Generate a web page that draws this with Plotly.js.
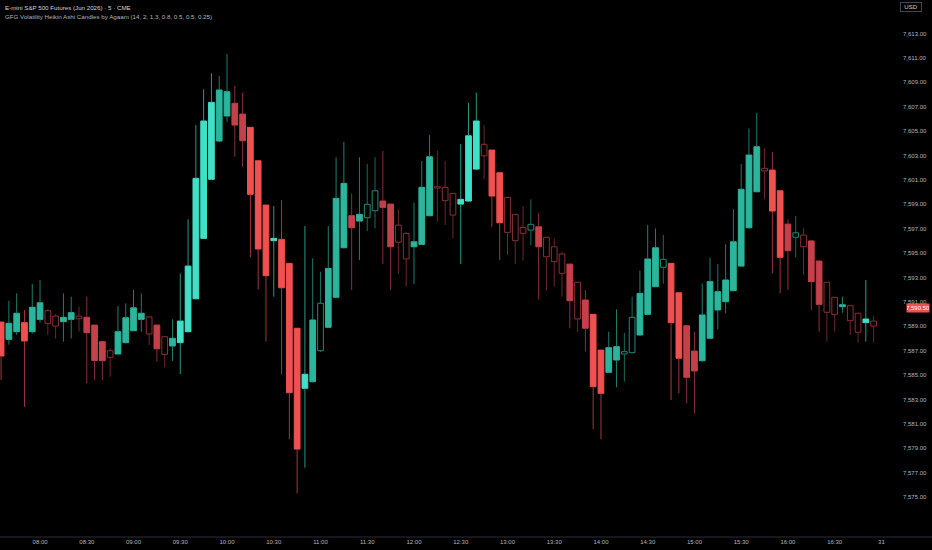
<!DOCTYPE html>
<html>
<head>
<meta charset="utf-8">
<script src="https://cdn.plot.ly/plotly-3.0.1.min.js"></script>
<style>
  html, body { margin: 0; padding: 0; background: #000; }
  #chart { width: 932px; height: 550px; }
</style>
</head>
<body>
<div id="chart"></div>
<script>
// Heikin Ashi bars, 07:35 .. 16:55
const haOpen = [
  7589.35, 7587.93, 7588.56, 7589.30, 7588.56, 7589.57, 7590.28, 7589.84, 7589.38, 7589.57,
  7589.84, 7589.74, 7589.10, 7587.74, 7587.00, 7586.73, 7587.66, 7588.64, 7589.57, 7589.77,
  7589.10, 7588.15, 7587.39, 7587.66, 7588.56, 7591.26, 7596.21, 7601.05, 7604.19, 7606.24,
  7607.28, 7606.40, 7605.31, 7602.57, 7598.94, 7596.02, 7596.13, 7594.16, 7588.84, 7583.92,
  7584.46, 7587.00, 7588.92, 7591.38, 7595.44, 7598.07, 7597.63, 7597.90, 7598.48, 7599.27,
  7599.02, 7597.30, 7596.62, 7595.52, 7595.72, 7598.07, 7600.44, 7600.39, 7599.90, 7599.02,
  7599.27, 7601.89, 7603.92, 7603.45, 7601.59, 7599.57, 7598.18, 7597.11, 7596.89, 7597.16,
  7596.30, 7595.52, 7594.93, 7594.10, 7592.61, 7591.16, 7589.98, 7587.05, 7585.23, 7586.24,
  7586.73, 7586.84, 7588.29, 7589.98, 7592.25, 7593.84, 7594.16, 7591.75, 7589.05, 7586.97,
  7586.18, 7588.02, 7590.34, 7591.02, 7591.92, 7593.94, 7597.08, 7600.03, 7601.95, 7601.81,
  7600.11, 7597.38, 7596.30, 7596.48, 7596.00, 7594.35, 7592.61, 7591.38, 7590.61, 7590.69,
  7590.07, 7589.30, 7589.43
];
const haHigh = [
  7589.35, 7591.10, 7591.70, 7590.34, 7592.47, 7592.80, 7590.40, 7590.00, 7591.70, 7591.43,
  7590.60, 7591.43, 7589.10, 7587.74, 7587.20, 7590.66, 7590.88, 7591.98, 7591.70, 7589.80,
  7589.10, 7588.15, 7589.57, 7593.34, 7597.77, 7605.50, 7608.43, 7609.74, 7609.52, 7611.32,
  7608.70, 7608.15, 7605.31, 7602.57, 7598.94, 7598.86, 7599.35, 7594.16, 7588.84, 7597.22,
  7594.57, 7593.48, 7597.22, 7602.85, 7604.13, 7599.90, 7602.85, 7602.30, 7602.85, 7603.37,
  7599.02, 7598.59, 7596.70, 7599.13, 7602.55, 7604.68, 7603.39, 7602.57, 7599.90, 7603.94,
  7607.33, 7608.15, 7605.50, 7603.45, 7601.59, 7599.57, 7598.18, 7598.86, 7599.41, 7598.31,
  7596.30, 7596.21, 7595.10, 7594.10, 7592.61, 7591.98, 7589.98, 7587.05, 7588.56, 7590.39,
  7588.48, 7591.43, 7593.56, 7597.30, 7597.03, 7596.50, 7594.16, 7591.75, 7589.05, 7588.56,
  7592.52, 7594.62, 7594.10, 7595.72, 7598.59, 7602.30, 7605.23, 7606.50, 7603.59, 7603.30,
  7600.11, 7597.77, 7598.04, 7597.03, 7596.00, 7594.35, 7592.61, 7591.38, 7591.43, 7590.69,
  7590.07, 7592.80, 7589.84
];
const haLow = [
  7584.60, 7587.50, 7588.30, 7582.40, 7588.40, 7589.30, 7588.29, 7588.00, 7587.74, 7588.00,
  7588.56, 7584.33, 7584.60, 7584.60, 7584.87, 7586.73, 7587.60, 7588.60, 7588.56, 7587.47,
  7586.10, 7585.64, 7586.16, 7585.09, 7588.50, 7591.20, 7596.20, 7601.00, 7604.10, 7605.77,
  7602.90, 7602.08, 7594.66, 7592.03, 7587.74, 7591.43, 7585.09, 7579.74, 7575.31, 7577.41,
  7584.40, 7586.90, 7588.90, 7591.30, 7595.40, 7591.98, 7594.43, 7596.81, 7597.03, 7594.10,
  7591.98, 7593.29, 7592.25, 7592.47, 7595.70, 7598.00, 7597.57, 7597.30, 7596.21, 7594.10,
  7599.20, 7601.80, 7601.05, 7597.16, 7594.43, 7594.84, 7594.10, 7594.38, 7595.66, 7591.21,
  7591.92, 7592.25, 7591.43, 7588.84, 7588.56, 7586.92, 7580.56, 7579.74, 7585.20, 7584.00,
  7584.46, 7586.80, 7588.20, 7589.90, 7592.20, 7592.50, 7582.96, 7583.51, 7582.69, 7581.87,
  7586.10, 7588.00, 7588.75, 7590.07, 7591.90, 7593.90, 7597.00, 7600.00, 7599.41, 7593.34,
  7591.70, 7591.98, 7594.66, 7593.20, 7590.34, 7588.56, 7587.74, 7588.56, 7590.12, 7588.29,
  7587.66, 7587.74, 7587.66
];
const haClose = [
  7586.57, 7589.25, 7590.07, 7587.80, 7590.56, 7590.93, 7589.25, 7589.02, 7589.74, 7590.12,
  7589.62, 7588.48, 7586.20, 7586.18, 7586.46, 7588.56, 7589.70, 7590.52, 7590.07, 7588.37,
  7587.16, 7586.70, 7588.02, 7589.43, 7593.94, 7601.13, 7605.83, 7607.36, 7608.37, 7608.23,
  7605.50, 7604.21, 7599.82, 7595.34, 7593.15, 7596.21, 7592.16, 7583.56, 7578.94, 7585.07,
  7589.52, 7590.89, 7593.75, 7599.49, 7600.72, 7597.08, 7598.18, 7599.00, 7600.11, 7598.75,
  7595.52, 7595.89, 7594.52, 7595.93, 7600.39, 7602.90, 7600.34, 7599.30, 7598.12, 7599.41,
  7604.62, 7605.83, 7602.98, 7599.68, 7597.49, 7596.70, 7596.02, 7596.62, 7597.36, 7595.52,
  7594.70, 7594.30, 7593.34, 7591.10, 7589.60, 7588.84, 7584.05, 7583.51, 7587.25, 7587.33,
  7586.92, 7589.74, 7591.70, 7594.52, 7595.44, 7594.49, 7589.30, 7586.38, 7584.82, 7585.34,
  7589.93, 7592.66, 7591.84, 7592.80, 7595.93, 7600.23, 7603.04, 7603.72, 7601.73, 7598.45,
  7594.66, 7595.20, 7596.67, 7595.52, 7592.66, 7590.80, 7590.15, 7589.98, 7590.77, 7589.46,
  7588.51, 7589.60, 7589.02
];
// volatility state of each bar: 2 strong (bright fill), 1 normal fill, 0 weak (hollow)
const volLevel = [
  2, 1, 1, 2, 1, 1, 0, 0, 1, 1,
  0, 1, 1, 1, 0, 1, 1, 1, 1, 0,
  1, 0, 1, 2, 2, 2, 2, 2, 1, 1,
  1, 1, 2, 2, 2, 2, 2, 2, 2, 2,
  1, 0, 1, 1, 1, 1, 1, 0, 0, 1,
  1, 0, 0, 1, 1, 1, 0, 0, 0, 2,
  2, 2, 0, 2, 2, 0, 0, 0, 0, 1,
  0, 0, 0, 1, 0, 1, 2, 2, 1, 1,
  0, 0, 1, 1, 1, 0, 2, 2, 1, 1,
  1, 1, 1, 1, 1, 1, 1, 1, 0, 2,
  2, 1, 0, 0, 1, 1, 0, 0, 1, 0,
  0, 2, 0
];

const sessionDay = '2026-03-30';
const firstBar = '07:35';
const timeTicks = ['08:00', '08:30', '09:00', '09:30', '10:00', '10:30', '11:00', '11:30', '12:00',
                   '12:30', '13:00', '13:30', '14:00', '14:30', '15:00', '15:30', '16:00', '16:30', '17:00'];
const timeTickText = ['08:00', '08:30', '09:00', '09:30', '10:00', '10:30', '11:00', '11:30', '12:00',
                      '12:30', '13:00', '13:30', '14:00', '14:30', '15:00', '15:30', '16:00', '16:30', '31'];
const priceTicks = [7575, 7577, 7579, 7581, 7583, 7585, 7587, 7589, 7591, 7593,
                    7595, 7597, 7599, 7601, 7603, 7605, 7607, 7609, 7611, 7613];
const lastPrice = 7590.50;

// colours by volatility level (hollow, normal, strong)
const upBody = ['#1f8a77', '#2cb59d', '#40e0c8'];
const downBody = ['#8a2f36', '#c5404a', '#f05050'];
const upWick = ['#1a6a5d', '#1f7d6d', '#279884'];
const downWick = ['#6e262c', '#86303a', '#a0373e'];

// 5 minute timestamps for every bar
function barTimes(n) {
    const out = [];
    let [h, m] = firstBar.split(':').map(Number);
    for (let i = 0; i < n; i++) {
        out.push(`${sessionDay} ${String(h).padStart(2, '0')}:${String(m).padStart(2, '0')}`);
        m += 5;
        if (m >= 60) { m -= 60; h += 1; }
    }
    return out;
}

const times = barTimes(haOpen.length);
const isUp = haClose.map((c, i) => c >= haOpen[i]);

let traces = [];

// wicks: one trace per colour, wick stops at the body so hollow candles stay empty
for (let dir = 0; dir < 2; dir++) {
    for (let lvl = 0; lvl < 3; lvl++) {
        let xs = [], ys = [];
        times.forEach((t, i) => {
            if ((dir === 0) !== isUp[i] || volLevel[i] !== lvl) return;
            const top = Math.max(haOpen[i], haClose[i]);
            const bot = Math.min(haOpen[i], haClose[i]);
            xs.push(t, t, null, t, t, null);
            ys.push(haHigh[i], top, null, bot, haLow[i], null);
        });
        traces.push({
            x: xs, y: ys,
            type: 'scatter', mode: 'lines',
            line: { color: dir === 0 ? upWick[lvl] : downWick[lvl], width: 1 },
            hoverinfo: 'skip', showlegend: false
        });
    }
}

// bodies
traces.push({
    x: times,
    base: haOpen.map((o, i) => Math.min(o, haClose[i])),
    y: haOpen.map((o, i) => Math.max(Math.abs(haClose[i] - o), 0.02)),
    type: 'bar',
    width: 220000,
    marker: {
        color: times.map((t, i) => volLevel[i] === 0 ? 'rgba(0,0,0,0)'
            : (isUp[i] ? upBody[volLevel[i]] : downBody[volLevel[i]])),
        line: {
            color: times.map((t, i) => isUp[i] ? upBody[volLevel[i]] : downBody[volLevel[i]]),
            width: 1
        }
    },
    hoverinfo: 'skip', showlegend: false
});

const fontFamily = 'Liberation Sans, Arial, sans-serif';
const axisFont = { family: fontFamily, size: 6, color: '#b2b5be' };

let layout = {
    width: 932, height: 550,
    margin: { l: 0, r: 35, t: 0, b: 13 },
    paper_bgcolor: '#000000',
    plot_bgcolor: '#000000',
    showlegend: false,
    xaxis: {
        type: 'date',
        range: [sessionDay + ' 07:34:18', sessionDay + ' 17:10:00'],
        tickvals: timeTicks.map(t => sessionDay + ' ' + t),
        ticktext: timeTickText,
        tickfont: axisFont,
        showgrid: false, zeroline: false, showline: false, ticks: '',
        fixedrange: true
    },
    yaxis: {
        side: 'right',
        range: [7571.73, 7615.75],
        tickvals: priceTicks,
        tickformat: ',.2f',
        tickfont: axisFont,
        ticklabelstandoff: 5,
        showgrid: false, zeroline: false, showline: false, ticks: '',
        fixedrange: true
    },
    shapes: [{
        type: 'line', xref: 'paper', yref: 'paper',
        x0: 0, x1: 1.05, y0: 0, y1: 0,
        line: { color: '#2a2e39', width: 1 }
    }],
    annotations: [
        {
            xref: 'paper', yref: 'paper', x: 0, y: 1, xanchor: 'left', yanchor: 'top',
            xshift: 3, yshift: -2, showarrow: false,
            text: 'E-mini S&amp;P 500 Futures (Jun 2026) · 5 · CME',
            font: { family: fontFamily, size: 6.2, color: '#d1d4dc' }
        },
        {
            xref: 'paper', yref: 'paper', x: 0, y: 1, xanchor: 'left', yanchor: 'top',
            xshift: 3, yshift: -11, showarrow: false,
            text: 'GFG Volatility Heikin Ashi Candles by Agaam (14, 2, 1.3, 0.8, 0.5, 0.5, 0.25)',
            font: { family: fontFamily, size: 6.2, color: '#b2b5be' }
        },
        {
            xref: 'paper', yref: 'paper', x: 1, y: 1, xanchor: 'left', yanchor: 'top',
            xshift: 3, yshift: -2, showarrow: false,
            text: 'USD', width: 20, height: 8,
            bordercolor: '#434651', borderwidth: 1, borderpad: 0, bgcolor: '#000000',
            font: { family: fontFamily, size: 6, color: '#d1d4dc' }
        },
        {
            xref: 'paper', yref: 'y', x: 1, y: lastPrice, xanchor: 'left', yanchor: 'middle',
            xshift: 9, showarrow: false,
            text: lastPrice.toLocaleString('en-US', { minimumFractionDigits: 2 }),
            width: 22, height: 8, bgcolor: '#f05050', borderpad: 0,
            font: { family: fontFamily, size: 6, color: '#ffffff' }
        }
    ]
};

Plotly.newPlot('chart', traces, layout, { displayModeBar: false, staticPlot: true });
</script>
</body>
</html>
